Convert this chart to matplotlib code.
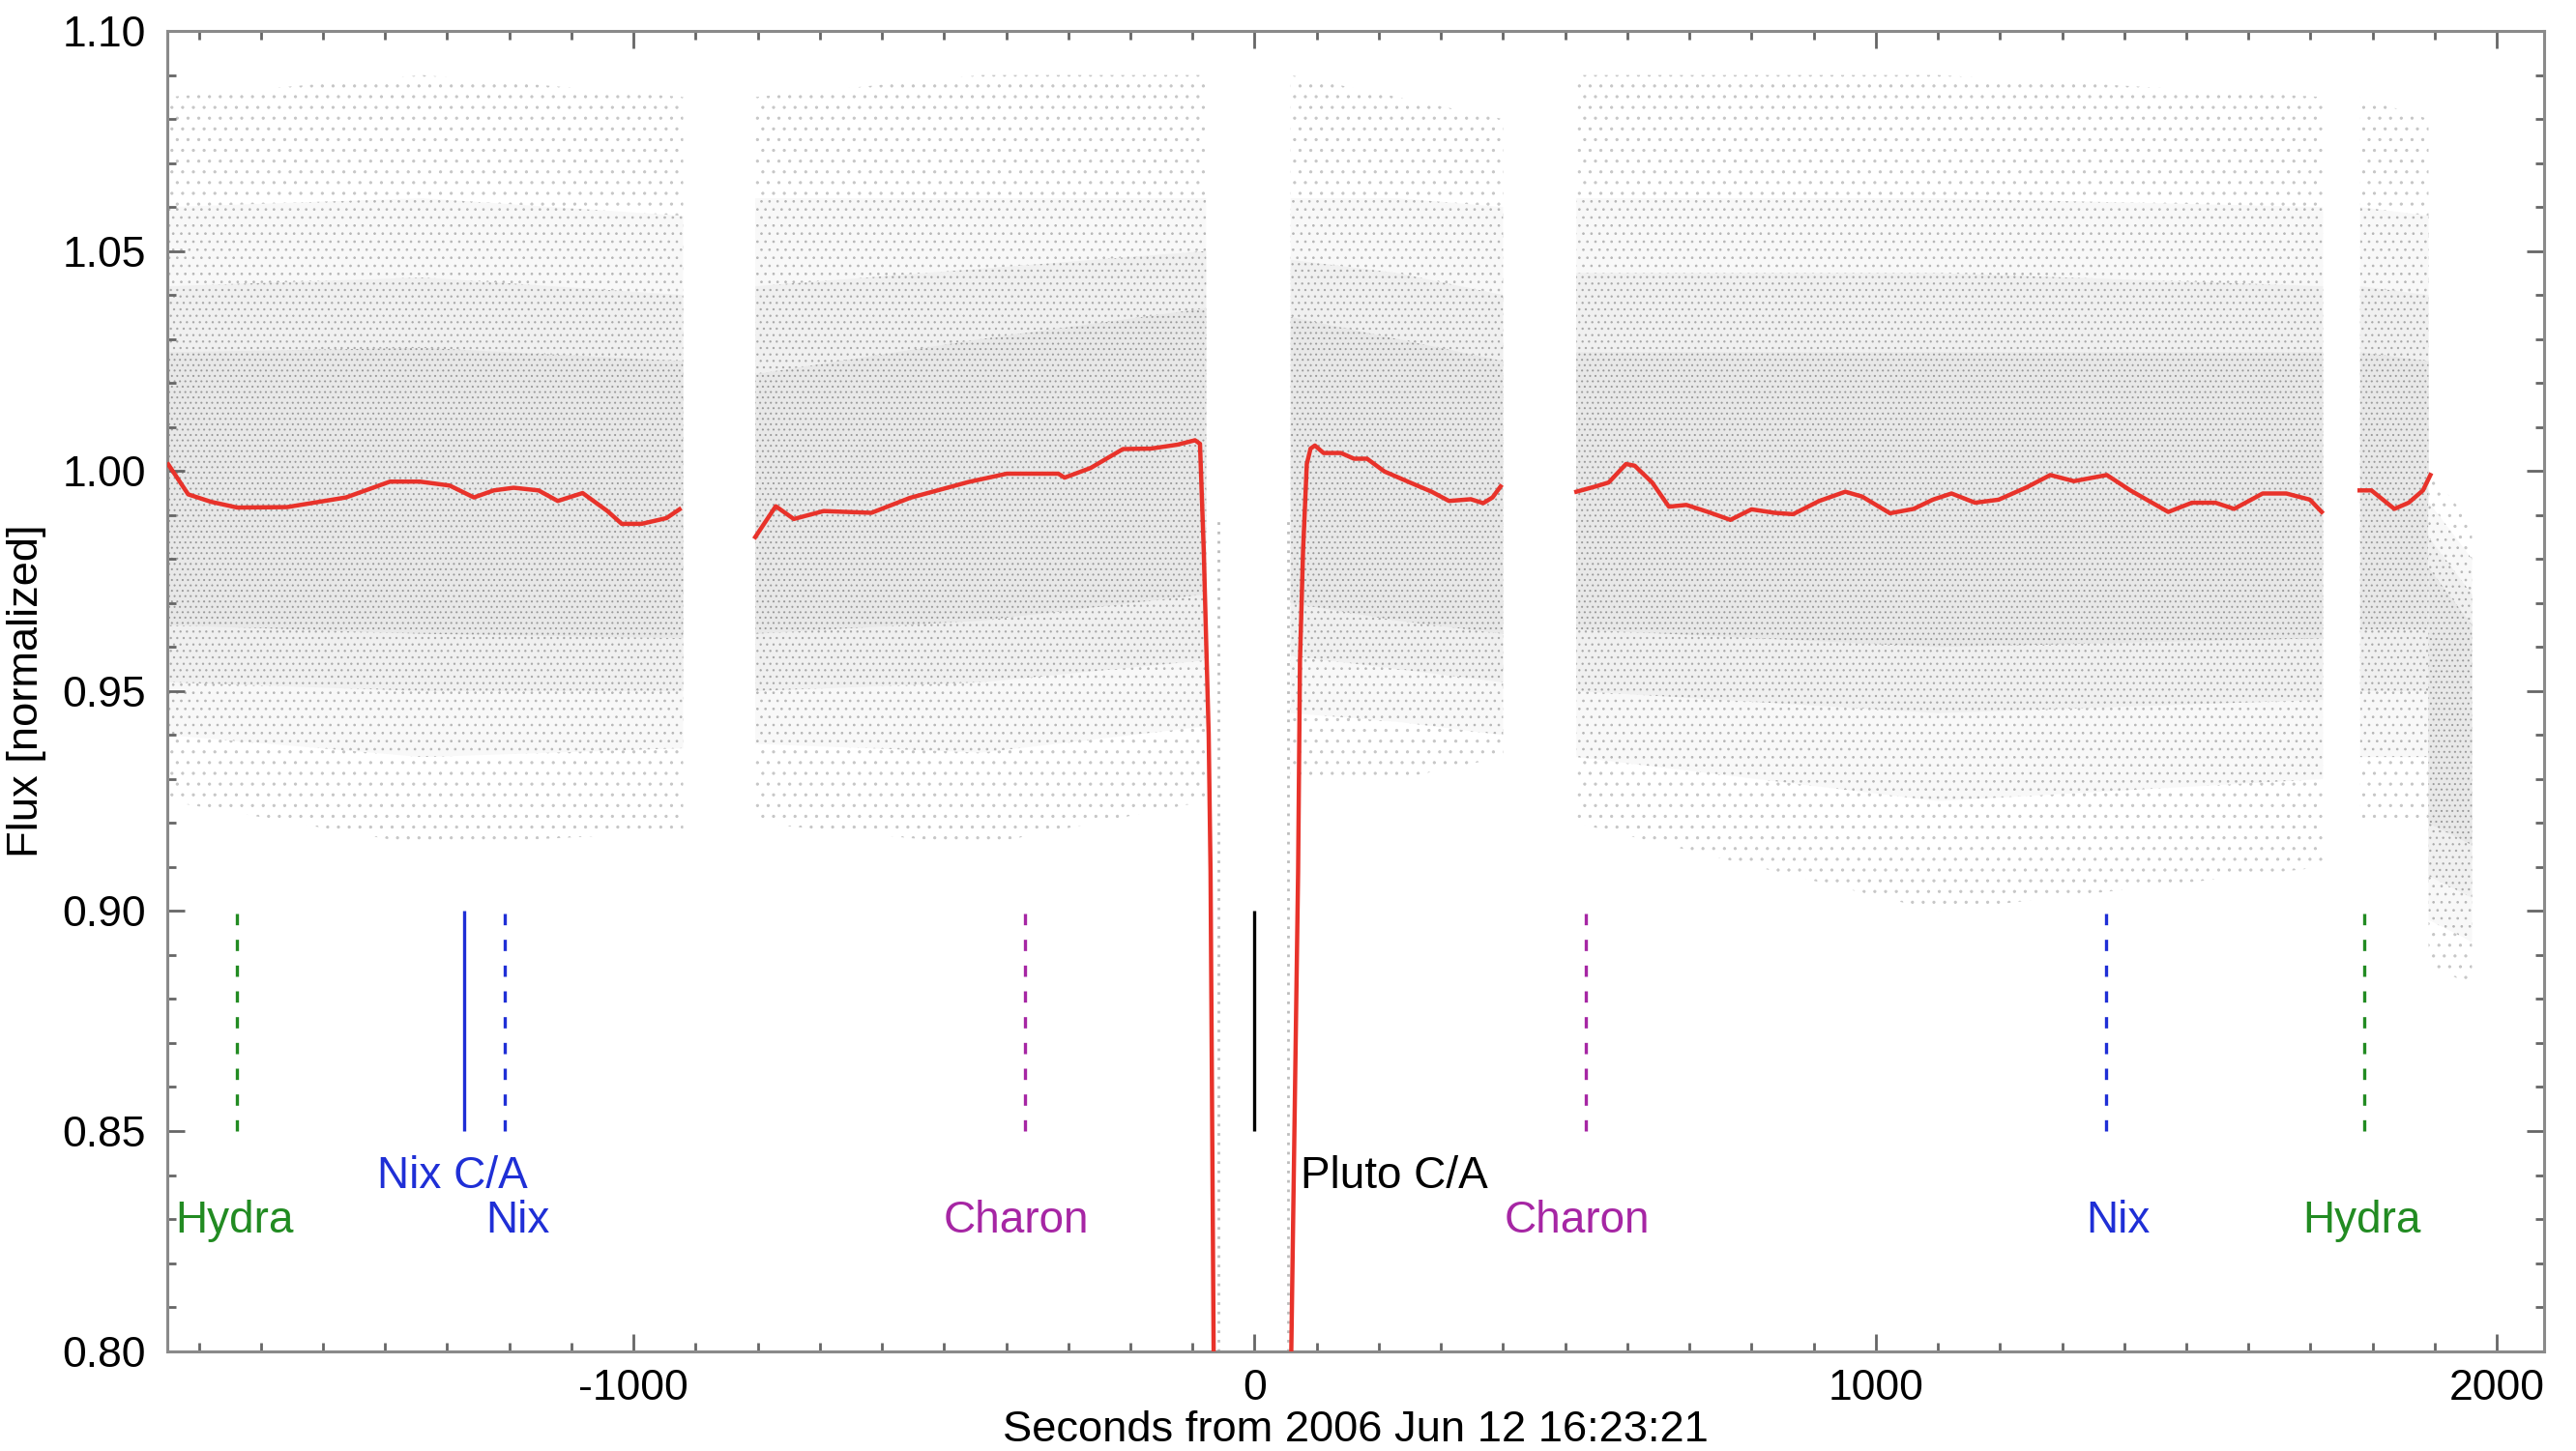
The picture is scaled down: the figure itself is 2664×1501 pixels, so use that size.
import numpy as np
import matplotlib
matplotlib.use("Agg")
import matplotlib.pyplot as plt
from matplotlib.ticker import MultipleLocator, FormatStrFormatter

plt.rcParams["font.family"] = ["Liberation Sans", "DejaVu Sans"]
plt.rcParams["axes.unicode_minus"] = False
plt.rcParams["hatch.linewidth"] = 0.35

# running-mean flux (red), one list per continuous stretch
red_x1 = [-1749, -1717, -1680, -1638, -1558, -1463, -1392, -1344, -1296, -1257,
          -1225, -1193, -1153, -1122, -1082, -1042, -1019, -987, -947, -926]
red_y1 = [1.0015, 0.9947, 0.9930, 0.9917, 0.9918, 0.9940, 0.9976, 0.9976, 0.9967, 0.9940,
          0.9956, 0.9962, 0.9956, 0.9932, 0.9950, 0.9909, 0.9880, 0.9880, 0.9893, 0.9913]
red_x2 = [-804, -771, -742, -694, -617, -555, -461, -399, -316, -306, -264, -212,
          -167, -124, -96, -88, -82, -74, -71, -66, -62,
          54, 59, 70, 73, 78, 84, 90, 97, 111, 139, 160, 181, 209, 250, 285,
          313, 348, 368, 383, 396]
red_y2 = [0.9850, 0.9920, 0.9891, 0.9909, 0.9905, 0.9939, 0.9975, 0.9994, 0.9994, 0.9985, 1.0007, 1.0050,
          1.0051, 1.0060, 1.0070, 1.0062, 0.9822, 0.9402, 0.909, 0.800, 0.730,
          0.730, 0.800, 0.909, 0.957, 0.982, 1.0016, 1.0051, 1.0058, 1.0041, 1.0041, 1.0028, 1.0028, 0.9999, 0.9974, 0.9953,
          0.9932, 0.9936, 0.9927, 0.9940, 0.9965]
red_x3 = [518, 549, 570, 598, 612, 640, 667, 695, 730, 766, 800, 837, 867, 909, 951,
          978, 1023, 1061, 1092, 1122, 1160, 1198, 1243, 1281, 1319, 1372, 1410,
          1471, 1509, 1547, 1577, 1623, 1661, 1699, 1718]
red_y3 = [0.9953, 0.9965, 0.9974, 1.0016, 1.0012, 0.9974, 0.9919, 0.9923, 0.9907, 0.9889, 0.9913, 0.9905, 0.9902, 0.9932, 0.9953,
          0.9942, 0.9904, 0.9914, 0.9935, 0.9949, 0.9928, 0.9935, 0.9963, 0.9991, 0.9977, 0.9991, 0.9956,
          0.9907, 0.9928, 0.9928, 0.9914, 0.9949, 0.9949, 0.9935, 0.9907]
red_x4 = [1779, 1798, 1835, 1858, 1881, 1893]
red_y4 = [0.9956, 0.9956, 0.9914, 0.9928, 0.9956, 0.9991]

# extent of the raw-photometry point cloud per data block,
# as (lo, hi) envelopes from the sparse outskirts to the dense core
cloud_x = [
    [-1750, -1340, -920],
    [-804, -440, -78],
    [58, 230, 400],
    [518, 1100, 1720],
    [1780, 1890],
    [1890, 1960],
]
cloud_env = [
    [([0.925, 0.915, 0.918], [1.085, 1.090, 1.085]),
     ([0.940, 0.935, 0.937], [1.060, 1.062, 1.058]),
     ([0.952, 0.950, 0.950], [1.042, 1.044, 1.040]),
     ([0.965, 0.963, 0.962], [1.027, 1.028, 1.025])],
    [([0.920, 0.915, 0.925], [1.085, 1.090, 1.090]),
     ([0.938, 0.936, 0.942], [1.062, 1.062, 1.062]),
     ([0.950, 0.952, 0.957], [1.042, 1.046, 1.050]),
     ([0.963, 0.966, 0.972], [1.022, 1.030, 1.037])],
    [([0.930, 0.930, 0.935], [1.090, 1.085, 1.080]),
     ([0.945, 0.943, 0.940], [1.062, 1.062, 1.060]),
     ([0.958, 0.955, 0.952], [1.048, 1.045, 1.040]),
     ([0.970, 0.966, 0.963], [1.035, 1.030, 1.025])],
    [([0.920, 0.900, 0.910], [1.090, 1.090, 1.085]),
     ([0.935, 0.925, 0.930], [1.062, 1.062, 1.060]),
     ([0.950, 0.945, 0.948], [1.045, 1.045, 1.042]),
     ([0.964, 0.960, 0.962], [1.027, 1.027, 1.027])],
    [([0.920, 0.920], [1.085, 1.080]),
     ([0.935, 0.935], [1.060, 1.058]),
     ([0.950, 0.950], [1.042, 1.040]),
     ([0.964, 0.964], [1.027, 1.025])],
    [([0.888, 0.883], [1.000, 0.988]),
     ([0.898, 0.893], [0.993, 0.980]),
     ([0.908, 0.903], [0.985, 0.972]),
     ([0.920, 0.915], [0.978, 0.965])],
]
# sparse points during ingress / egress
edge_x = [-58, 54]
edge_lo = [0.80, 0.80]
edge_hi = [0.99, 0.99]

# satellite / closest-approach markers
mark_x = [-1639, -1272, -1207, -370, 0, 533, 1371, 1787]
mark_color = ["#228b22", "#1f2fd6", "#1f2fd6", "#a626a4", "black", "#a626a4", "#1f2fd6", "#228b22"]
mark_solid = [False, True, False, False, True, False, False, False]
mark_lo, mark_hi = 0.85, 0.90

label_text = ["Hydra", "Nix C/A", "Nix", "Charon", "Pluto C/A", "Charon", "Nix", "Hydra"]
label_x = [-1643, -1291, -1187, -384, 74, 519, 1390, 1783]
label_y = [0.8295, 0.8396, 0.8295, 0.8295, 0.8396, 0.8295, 0.8295, 0.8295]
label_ha = ["center", "center", "center", "center", "left", "center", "center", "center"]
label_color = ["#228b22", "#1f2fd6", "#1f2fd6", "#a626a4", "black", "#a626a4", "#1f2fd6", "#228b22"]

fig = plt.figure(figsize=(13.32, 7.505), dpi=200)
ax = fig.add_axes([0.0651, 0.0689, 0.9225, 0.9097])

# outskirts -> core: face colour, dot colour, dot density
tiers = [("white", "#c6c6c6", "..."), ("#f8f8f8", "#b6b6b6", "...."),
         ("#f0f0f0", "#a8a8a8", "....."), ("#e8e8e8", "#9a9a9a", "......")]
for bx, env in zip(cloud_x, cloud_env):
    for (lo, hi), (face, dot, hatch) in zip(env, tiers):
        ax.fill_between(bx, lo, hi, facecolor=face, edgecolor=dot, hatch=hatch, linewidth=0, zorder=1)
ax.vlines(edge_x, edge_lo, edge_hi, colors="#bdbdbd", linestyles=(0, (1, 2.5)), linewidth=1.0, zorder=1)

for xs, ys in [(red_x1, red_y1), (red_x2, red_y2), (red_x3, red_y3), (red_x4, red_y4)]:
    ax.plot(xs, ys, color="#e8322a", lw=1.6, zorder=3)

for x, c, solid in zip(mark_x, mark_color, mark_solid):
    ax.vlines(x, mark_lo, mark_hi, colors=c, lw=1.2,
              linestyles="solid" if solid else (0, (3.5, 4.5)), zorder=4)

for t, x, y, ha, c in zip(label_text, label_x, label_y, label_ha, label_color):
    ax.text(x, y, t, color=c, ha=ha, va="center", fontsize=16.5, zorder=5)

ax.set_xlim(-1750, 2076)
ax.set_ylim(0.80, 1.10)
ax.xaxis.set_major_locator(MultipleLocator(1000))
ax.xaxis.set_minor_locator(MultipleLocator(100))
ax.yaxis.set_major_locator(MultipleLocator(0.05))
ax.yaxis.set_minor_locator(MultipleLocator(0.01))
ax.yaxis.set_major_formatter(FormatStrFormatter("%.2f"))
ax.tick_params(which="both", direction="in", top=True, right=True, color="#666666", width=1.0)
ax.tick_params(which="major", length=6.4, labelsize=16, pad=6.5)
ax.tick_params(which="minor", length=3.1)
ax.tick_params(axis="y", which="major", pad=8)
for s in ax.spines.values():
    s.set_color("#8a8a8a")
    s.set_linewidth(1.1)

ax.set_xlabel("Seconds from 2006 Jun 12 16:23:21", fontsize=16.3, labelpad=1)
ax.set_ylabel("Flux [normalized]", fontsize=16.3, labelpad=6)

fig.savefig("out.png", dpi=200)
